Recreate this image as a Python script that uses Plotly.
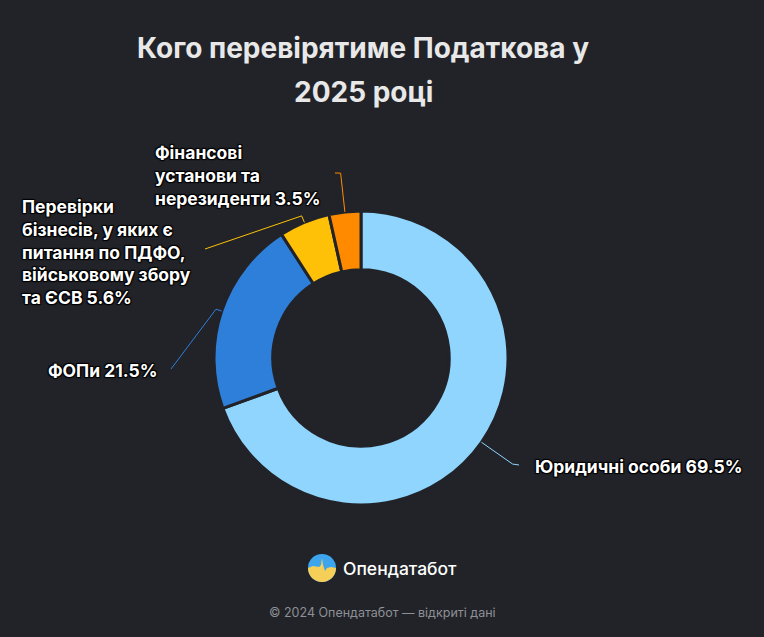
import numpy as np
import plotly.graph_objects as go

W, H = 764, 637
BG = "#212328"

# data
categories = [
    "Юридичні особи",
    "ФОПи",
    "Перевірки бізнесів, у яких є питання по ПДФО, військовому збору та ЄСВ",
    "Фінансові установи та нерезиденти",
]
shares = [69.5, 21.5, 5.6, 3.5]
label_lines = [
    ["Юридичні особи 69.5%"],
    ["ФОПи 21.5%"],
    ["Перевірки", "бізнесів, у яких є", "питання по ПДФО,", "військовому збору", "та ЄСВ 5.6%"],
    ["Фінансові", "установи та", "нерезиденти 3.5%"],
]
colors = ["#8fd5fe", "#2e7fd9", "#ffc107", "#ff8a00"]

# pie placement in pixels
cx, cy, R = 361, 358, 147

def px(x):
    return x / W

def py(y):
    return 1 - y / H

fig = go.Figure()
fig.add_trace(go.Pie(
    labels=categories,
    values=shares,
    hole=0.6,
    sort=False,
    direction="clockwise",
    rotation=0,
    marker=dict(colors=colors, line=dict(color=BG, width=3)),
    textinfo="none",
    hoverinfo="label+percent",
    domain=dict(x=[px(cx - R), px(cx + R)], y=[py(cy + R), py(cy - R)]),
    showlegend=False,
))

# label layout: (radial length of first segment, end point, text x, text y, xanchor)
label_layout = [
    (38, (519, 465), 533, 466, "left"),
    (6, (171, 369), 159, 370, "right"),
    (7, (205, 249), 20, 252, "left"),
    (39, (335, 173), 153, 175, "left"),
]

shadow = "1px 1px 1px #000, -1px -1px 1px #000, 1px -1px 1px #000, -1px 1px 1px #000"
shapes = []
annotations = []
total = sum(shares)
start = 0.0
for val, col, lines, (d, end, tx, ty, anchor) in zip(shares, colors, label_lines, label_layout):
    mid = (start + val / 2) / total * 2 * np.pi
    start += val
    sx, sy = np.sin(mid), -np.cos(mid)
    p0 = (cx + R * sx, cy + R * sy)
    p1 = (cx + (R + d) * sx, cy + (R + d) * sy)
    path = "M {} {} L {} {} L {} {}".format(
        px(p0[0]), py(p0[1]), px(p1[0]), py(p1[1]), px(end[0]), py(end[1]))
    shapes.append(dict(type="path", xref="paper", yref="paper", path=path,
                       line=dict(color=col, width=1)))
    annotations.append(dict(
        text="<br>".join(lines), x=px(tx), y=py(ty), xref="paper", yref="paper",
        xanchor=anchor, yanchor="middle", align="left", showarrow=False,
        font=dict(family="Inter", size=17.5, color="#ffffff", weight="bold", shadow=shadow),
    ))

# title
for txt, ty in [("Кого перевірятиме Податкова у", 48), ("2025 році", 92)]:
    annotations.append(dict(
        text=txt, x=px(363), y=py(ty), xref="paper", yref="paper", xanchor="center",
        yanchor="middle", showarrow=False,
        font=dict(family="Inter", size=28, color="#e8e8e8", weight="bold"),
    ))

# brand and footer
annotations.append(dict(
    text="Опендатабот", x=px(341), y=py(568), xref="paper", yref="paper",
    xanchor="left", yanchor="middle", showarrow=False,
    font=dict(family="Inter", size=17.5, color="#ffffff", weight=500),
))
annotations.append(dict(
    text="© 2024 Опендатабот — відкриті дані", x=px(382), y=py(612), xref="paper", yref="paper",
    xanchor="center", yanchor="middle", showarrow=False,
    font=dict(family="Inter", size=12.5, color="#8e9096"),
))

# logo: blue disc with yellow lower part
lr = 14
ang = np.linspace(np.pi, 2 * np.pi, 30)
pts = ["{:.2f},{:.2f}".format(lr * np.cos(a), lr * np.sin(a)) for a in ang]
skyline = [(9, 1), (5, 0), (3, -3), (1, 3), (0, 10), (-1, 3), (-3, 1), (-9, 2), (-14, 0)]
path = "M " + " L ".join(pts) + " L " + " L ".join("{},{}".format(a, b) for a, b in skyline) + " Z"
shapes.append(dict(type="circle", xref="paper", yref="paper", xsizemode="pixel", ysizemode="pixel",
                   xanchor=px(322), yanchor=py(568), x0=-lr, x1=lr, y0=-lr, y1=lr,
                   fillcolor="#3da5ee", line=dict(width=0)))
shapes.append(dict(type="path", xref="paper", yref="paper", xsizemode="pixel", ysizemode="pixel",
                   xanchor=px(322), yanchor=py(568), path=path,
                   fillcolor="#f6cf58", line=dict(width=0)))

fig.update_layout(
    width=W, height=H,
    margin=dict(l=0, r=0, t=0, b=0),
    paper_bgcolor=BG, plot_bgcolor=BG,
    shapes=shapes, annotations=annotations,
    font=dict(family="Inter"),
)

fig.write_html("out.html", config={"displayModeBar": False},
               post_script="document.body.style.margin='0';document.body.style.background='%s';" % BG)
